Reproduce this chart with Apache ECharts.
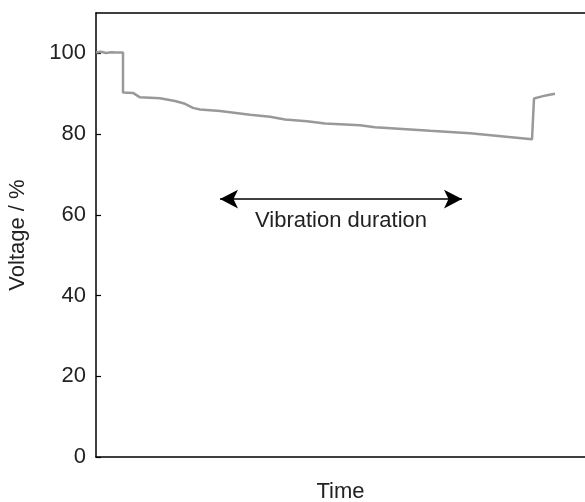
<!DOCTYPE html>
<html>
<head>
<meta charset="utf-8">
<script src="https://cdn.jsdelivr.net/npm/echarts@6/dist/echarts.min.js"></script>
<style>html,body{margin:0;padding:0;background:#fff}#c{width:585px;height:502px}</style>
</head>
<body>
<div id="c"></div>
<script>
// Time (arbitrary units) and voltage (%)
const timeVals = [0, 5, 10, 15, 20, 27, 27, 37, 44, 64, 79, 89, 97, 104, 124, 154, 174, 189, 211, 229, 264, 279, 334, 374, 436, 438, 440, 447, 451, 459];
const voltage  = [100.2, 100.4, 100.1, 100.3, 100.2, 100.2, 90.3, 90.2, 89.1, 88.9, 88.2, 87.5, 86.5, 86.1, 85.7, 84.8, 84.3, 83.6, 83.2, 82.6, 82.2, 81.7, 80.8, 80.2, 78.7, 88.8, 88.9, 89.4, 89.6, 90.0];
const yTicks = [0, 20, 40, 60, 80, 100];
const arrowStart = [124, 63.9];
const arrowEnd = [366, 63.9];
const annotation = 'Vibration duration';

const chart = echarts.init(document.getElementById('c'));
const font = 'Liberation Sans, Arial, sans-serif';
chart.setOption({
  animation: false,
  grid: {left: 96, right: 0, top: 13, bottom: 45, containLabel: false, outerBoundsMode: 'none'},
  xAxis: [{
    type: 'value', min: 0, max: 489, position: 'bottom',
    name: 'Time', nameLocation: 'middle', nameGap: 24,
    nameTextStyle: {fontFamily: font, fontSize: 22, color: '#222'},
    axisLine: {lineStyle: {color: '#000', width: 1.5}},
    axisTick: {show: false}, axisLabel: {show: false}, splitLine: {show: false}
  }, {
    type: 'value', min: 0, max: 489, position: 'top',
    axisLine: {show: true, lineStyle: {color: '#000', width: 1.5}},
    axisTick: {show: false}, axisLabel: {show: false}, splitLine: {show: false}
  }],
  yAxis: {
    type: 'value', min: 0, max: 110, interval: 20,
    name: 'Voltage / %', nameLocation: 'middle', nameGap: 67,
    nameTextStyle: {fontFamily: font, fontSize: 22, color: '#222'},
    axisLine: {show: true, lineStyle: {color: '#000', width: 1.5}},
    axisTick: {show: true, inside: true, length: 5, lineStyle: {color: '#000', width: 1.2},
      customValues: yTicks},
    axisLabel: {fontFamily: font, fontSize: 22, color: '#222', margin: 10, customValues: yTicks},
    splitLine: {show: false}
  },
  series: [{
    type: 'line',
    data: timeVals.map((t, i) => [t, voltage[i]]),
    showSymbol: false,
    lineStyle: {color: '#999999', width: 2.5},
    markLine: {
      silent: true,
      symbol: ['arrow', 'arrow'],
      symbolSize: [14, 18],
      lineStyle: {color: '#000', width: 1.5, type: 'solid'},
      label: {
        show: true, position: 'middle', formatter: annotation,
        fontFamily: font, fontSize: 22, color: '#222', distance: [0, -33]
      },
      data: [[{coord: arrowStart}, {coord: arrowEnd}]]
    }
  }]
});
</script>
</body>
</html>
